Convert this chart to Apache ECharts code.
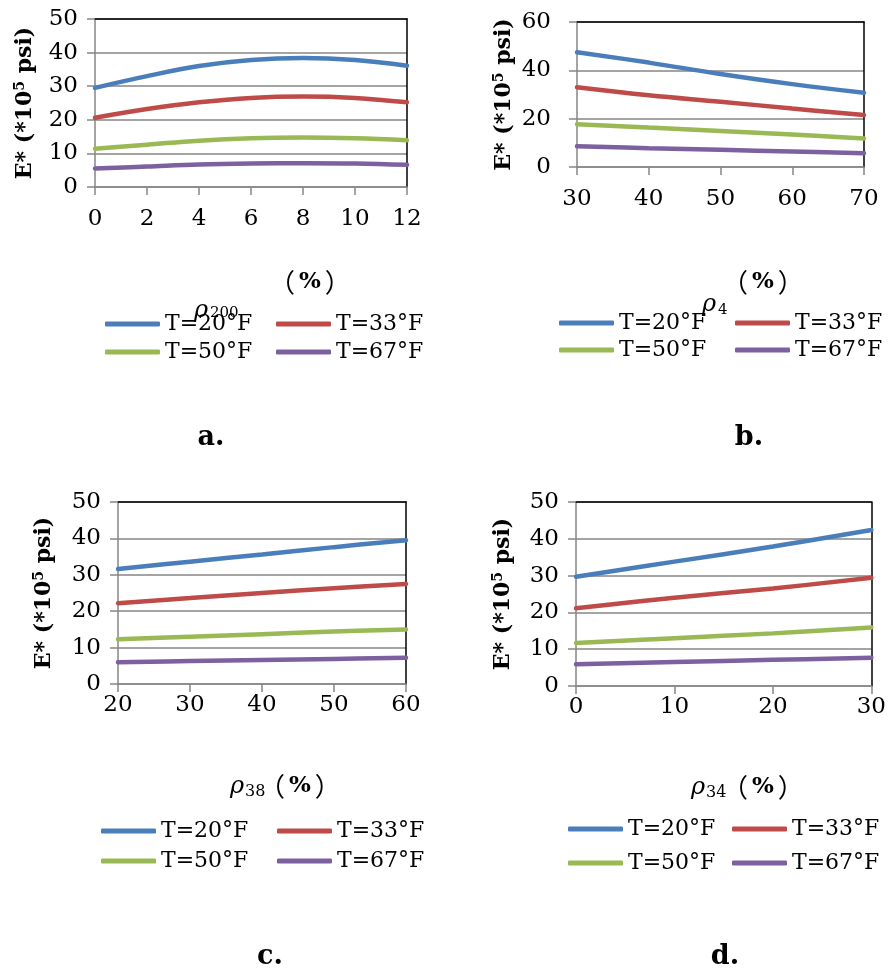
<!DOCTYPE html>
<html>
<head>
<meta charset="utf-8">
<script src="https://cdn.jsdelivr.net/npm/echarts@6/dist/echarts.min.js"></script>
<style>html,body{margin:0;padding:0;background:#fff}#c{width:889px;height:971px}</style>
</head>
<body>
<div id="c"></div>
<script>
// ---- data ----
const seriesNames = ['T=20°F', 'T=33°F', 'T=50°F', 'T=67°F'];

const xA = [0, 2, 4, 6, 8, 10, 12];
const a20 = [29.5, 33.0, 36.0, 37.8, 38.4, 37.8, 36.1];
const a33 = [20.6, 23.2, 25.2, 26.5, 26.9, 26.5, 25.2];
const a50 = [11.4, 12.6, 13.8, 14.5, 14.7, 14.5, 13.9];
const a67 = [5.5, 6.1, 6.7, 7.0, 7.1, 7.0, 6.6];

const xB = [30, 40, 50, 60, 70];
const b20 = [47.5, 43.2, 38.5, 34.3, 30.7];
const b33 = [33.0, 29.7, 27.0, 24.2, 21.5];
const b50 = [17.7, 16.3, 14.9, 13.4, 11.8];
const b67 = [8.6, 7.8, 7.1, 6.4, 5.7];

const xC = [20, 30, 40, 50, 60];
const c20 = [31.6, 33.6, 35.6, 37.6, 39.5];
const c33 = [22.2, 23.6, 25.0, 26.3, 27.5];
const c50 = [12.3, 13.0, 13.7, 14.4, 15.0];
const c67 = [6.0, 6.3, 6.6, 6.9, 7.2];

const xD = [0, 10, 20, 30];
const d20 = [29.7, 33.8, 37.9, 42.4];
const d33 = [21.1, 24.0, 26.5, 29.4];
const d50 = [11.7, 13.0, 14.3, 15.9];
const d67 = [5.9, 6.5, 7.1, 7.7];

// ---- layout / style ----
const colors = ['#4A7EBB', '#BE4B48', '#98B954', '#7D60A0'];
const FONT = '"DejaVu Serif", "Liberation Serif", serif';
const CJK = '"Noto Sans CJK SC", "Noto Sans CJK JP", sans-serif';

const panels = [
  { x: xA, ys: [a20, a33, a50, a67], grid: { left: 95, top: 19, width: 312, height: 168 },
    xmin: 0, xmax: 12, xint: 2, ymax: 50, yint: 10, xMargin: 21, yMargin: 17, nameGap: 58,
    legend: { x1: 105, x2: 276, y1: 324, y2: 352 } },
  { x: xB, ys: [b20, b33, b50, b67], grid: { left: 577, top: 22, width: 287, height: 145 },
    xmin: 30, xmax: 70, xint: 10, ymax: 60, yint: 20, xMargin: 21, yMargin: 26, nameGap: 61,
    legend: { x1: 559, x2: 735, y1: 323, y2: 350 } },
  { x: xC, ys: [c20, c33, c50, c67], grid: { left: 118, top: 502, width: 288, height: 182 },
    xmin: 20, xmax: 60, xint: 10, ymax: 50, yint: 10, xMargin: 10, yMargin: 17, nameGap: 62,
    legend: { x1: 101, x2: 277, y1: 831, y2: 861 } },
  { x: xD, ys: [d20, d33, d50, d67], grid: { left: 576, top: 502, width: 298, height: 184 },
    xmin: 0, xmax: 30, xint: 10, ymax: 50, yint: 10, xMargin: 10, yMargin: 17, nameGap: 61,
    legend: { x1: 568, x2: 732, y1: 829, y2: 863 } }
];

const grid = [], xAxis = [], yAxis = [], series = [], legend = [];
const gray = '#868686';

panels.forEach((p, i) => {
  grid.push(Object.assign({ containLabel: false }, p.grid));
  xAxis.push({
    type: 'value', gridIndex: i, min: p.xmin, max: p.xmax, interval: p.xint,
    axisLine: { show: true, onZero: false, lineStyle: { color: gray, width: 1.5 } },
    axisTick: { show: true, inside: false, length: 8, lineStyle: { color: gray, width: 1.5 } },
    axisLabel: { margin: p.xMargin, fontFamily: FONT, fontSize: 23, color: '#000' },
    splitLine: { show: false }
  });
  xAxis.push({
    type: 'value', gridIndex: i, position: 'top', min: p.xmin, max: p.xmax,
    axisLine: { show: true, onZero: false, lineStyle: { color: '#000', width: 1.5 } },
    axisTick: { show: false }, axisLabel: { show: false }, splitLine: { show: false }
  });
  yAxis.push({
    type: 'value', gridIndex: i, min: 0, max: p.ymax, interval: p.yint,
    name: '{t|E* (*10}{s|5}{t| psi)}', nameLocation: 'middle', nameGap: p.nameGap,
    nameTextStyle: {
      rich: {
        t: { fontFamily: FONT, fontWeight: 'bold', fontSize: 22, color: '#000' },
        s: { fontFamily: FONT, fontWeight: 'bold', fontSize: 14, color: '#000', verticalAlign: 'top', padding: [0, 0, 10, 0] }
      }
    },
    axisLine: { show: true, onZero: false, lineStyle: { color: gray, width: 1.5 } },
    axisTick: { show: true, inside: false, length: 8, lineStyle: { color: gray, width: 1.5 } },
    axisLabel: { margin: p.yMargin, fontFamily: FONT, fontSize: 23, color: '#000' },
    splitLine: { show: true, lineStyle: { color: gray, width: 1.5 } }
  });
  yAxis.push({
    type: 'value', gridIndex: i, position: 'right', min: 0, max: p.ymax,
    axisLine: { show: true, onZero: false, lineStyle: { color: '#000', width: 1.5 } },
    axisTick: { show: false }, axisLabel: { show: false }, splitLine: { show: false }
  });
  p.ys.forEach((ys, k) => {
    series.push({
      type: 'line', name: seriesNames[k], xAxisIndex: 2 * i, yAxisIndex: 2 * i,
      data: p.x.map((xv, j) => [xv, ys[j]]),
      smooth: 0.4, symbol: 'none', showSymbol: false,
      lineStyle: { color: colors[k], width: 4.5, cap: 'round' },
      itemStyle: { color: colors[k] }, z: 3 + (3 - k)
    });
    const L = p.legend;
    legend.push({
      left: (k % 2 === 0) ? L.x1 : L.x2,
      top: (k < 2 ? L.y1 : L.y2) - 12,
      data: [seriesNames[k]], icon: 'roundRect', itemWidth: 55, itemHeight: 5,
      padding: 0, itemGap: 0, selectedMode: false,
      textStyle: { fontFamily: FONT, fontSize: 22, color: '#000', lineHeight: 24 }
    });
  });
});

function txt(x, y, s, size, opts) {
  return {
    type: 'text', x: x, y: y, silent: true,
    style: Object.assign({ text: s, fontFamily: FONT, fontSize: size, fill: '#000', align: 'left', verticalAlign: 'middle' }, opts || {})
  };
}
const pct = (x, y) => ({
  type: 'text', x: x, y: y, silent: true,
  style: {
    text: '{p|（}{b|%}{p|）}', align: 'left', verticalAlign: 'middle',
    rich: {
      p: { fontFamily: CJK, fontSize: 26, fill: '#000' },
      b: { fontFamily: FONT, fontSize: 23, fontWeight: 'bold', fill: '#000', padding: [0, 4, 0, 4] }
    }
  }
});

const graphic = [
  // panel a x-axis name
  pct(269, 282),
  txt(194, 311, 'ρ', 24, { fontStyle: 'italic' }),
  txt(210, 313, '200', 15),
  // panel b
  pct(722, 282),
  txt(702, 305, 'ρ', 24, { fontStyle: 'italic' }),
  txt(718, 310, '4', 15),
  // panel c
  txt(230, 787, 'ρ', 24, { fontStyle: 'italic' }),
  txt(245, 792, '38', 16),
  pct(259, 786),
  // panel d
  txt(691, 788, 'ρ', 24, { fontStyle: 'italic' }),
  txt(706, 793, '34', 16),
  pct(722, 787),
  // panel labels
  txt(211, 438, 'a.', 27, { fontWeight: 'bold', align: 'center' }),
  txt(749, 438, 'b.', 27, { fontWeight: 'bold', align: 'center' }),
  txt(270, 957, 'c.', 27, { fontWeight: 'bold', align: 'center' }),
  txt(725, 957, 'd.', 27, { fontWeight: 'bold', align: 'center' })
];

const chart = echarts.init(document.getElementById('c'), null, { renderer: 'canvas' });
chart.setOption({
  backgroundColor: '#fff',
  animation: false,
  color: colors,
  grid, xAxis, yAxis, series, legend, graphic
});
</script>
</body>
</html>
